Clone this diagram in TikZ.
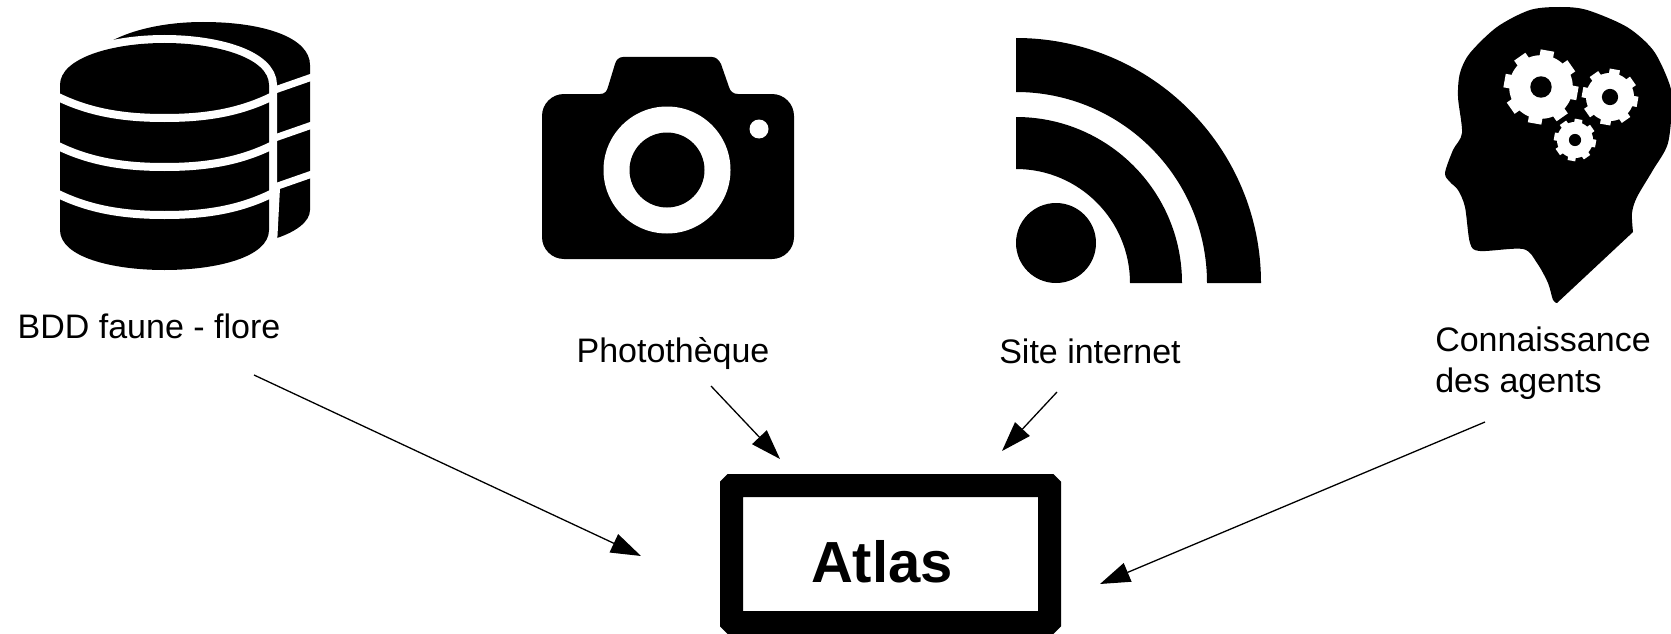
\documentclass[tikz,border=0pt]{standalone}
\usepackage{fontspec}
\setmainfont{Liberation Sans}
\usetikzlibrary{arrows.meta}

\newcommand{\roue}[3]{
\foreach \a in {0,45,...,315} {
\draw[white,line width=0.37*#3 pt] (#1,#2) -- ++(\a+10:#3);
}
\fill[white] (#1,#2) circle (0.86*#3);
\fill (#1,#2) circle (0.29*#3);
}

\begin{document}
\begin{tikzpicture}[x=1pt,y=-1pt,
etiquette/.style = {font=\fontsize{34}{41}\selectfont,align=left,inner sep=0pt},
cadre/.style = {draw,line width=23pt,rounded corners=1pt,minimum width=318pt,minimum height=137pt,inner sep=0pt},
fleche/.style = {-{Triangle[length=30pt,width=20pt]},line width=1.3pt},
bande/.style = {white,line width=8pt}]
\useasboundingbox (0,0) rectangle (1671,634);

% base de donnees
\fill (100,48) .. controls (125,30) and (165,22) .. (203,22) .. controls (265,22) and (310,38) .. (310,65) -- (310,210) .. controls (310,222) and (295,232) .. (277,238) -- (200,120) -- cycle;
\foreach \y in {0,48,97} {
\draw[bande,line width=7pt] (272,91+\y) -- (315,76+\y);
}
\fill[white] (269,190) -- (280,188) -- (277,245) -- (269,245) -- cycle;
\draw[bande,line width=16pt] (60,85) .. controls (60,58) and (112,43) .. (164.5,43) .. controls (217,43) and (269,58) .. (269,85) -- (269,230) .. controls (269,257) and (217,270) .. (164.5,270) .. controls (112,270) and (60,257) .. (60,230) -- cycle;
\fill (60,85) .. controls (60,58) and (112,43) .. (164.5,43) .. controls (217,43) and (269,58) .. (269,85) -- (269,230) .. controls (269,257) and (217,270) .. (164.5,270) .. controls (112,270) and (60,257) .. (60,230) -- cycle;
\foreach \y in {0,49,97} {
\draw[bande] (56,96+\y) .. controls (90,113+\y) and (125,118+\y) .. (164.5,118+\y) .. controls (204,118+\y) and (239,113+\y) .. (273,96+\y);
}

% appareil photo
\fill[rounded corners=22pt] (542,94) rectangle (794,259);
\fill (596,94) -- (600,94) .. controls (605,94) and (607,91) .. (608,87) -- (615,64) .. controls (616,60) and (619,57) .. (623,57) -- (712,57) .. controls (716,57) and (719,60) .. (721,64) -- (729,87) .. controls (730,91) and (733,94) .. (738,94) -- (741,100) -- (596,100) -- cycle;
\fill[white] (667,170) circle (63.5);
\fill (667,170) circle (37.5);
\fill[white] (759,129) circle (9.5);

% flux internet
\fill (1016,38) arc[start angle=-90,end angle=0,radius=245] -- (1207,283) arc[start angle=0,end angle=-90,radius=191] -- cycle;
\fill (1016,117) arc[start angle=-90,end angle=0,radius=166] -- (1130,283) arc[start angle=0,end angle=-90,radius=114] -- cycle;
\fill (1056,243) circle (40);

% tete
\fill plot[smooth,tension=0.5] coordinates {(1633,232) (1632,213) (1637,197) (1653,170) (1668,143) (1672,100) (1668,80) (1653,50) (1627,27) (1587,10) (1560,7) (1530,10) (1497,27) (1470,53) (1460,73) (1458,97) (1462,133) (1453,150) (1445,173) (1450,182) (1458,190) (1465,207) (1470,243) (1480,251) (1523,249) (1537,263) (1548,283) (1553,300) (1557,303)} -- cycle;
\roue{1541}{87}{37}
\roue{1610}{97}{28}
\roue{1575}{140}{21}

\node[etiquette] (bdd) at (149,326) {BDD faune - flore};
\node[etiquette] (photo) at (673,354) {Photothèque};
\node[etiquette] (site) at (1090,351) {Site internet};
\node[etiquette] (agents) at (1543,363) {Connaissance\\des agents};
\node[cadre] (atlas) at (890.5,554) {};
\node[font=\fontsize{58}{70}\selectfont\bfseries,inner sep=0pt] (titre) at (882,562) {Atlas};

\draw[fleche] ([shift={(105,49)}]bdd.center) -- ([shift={(-249.5,2)}]atlas.center);
\draw[fleche] ([shift={(38,32)}]photo.center) -- ([shift={(-110.5,-95)}]atlas.center);
\draw[fleche] ([shift={(-33,41)}]site.center) -- ([shift={(111.5,-103)}]atlas.center);
\draw[fleche] ([shift={(-58,59)}]agents.center) -- ([shift={(209.5,30)}]atlas.center);
\end{tikzpicture}
\end{document}
